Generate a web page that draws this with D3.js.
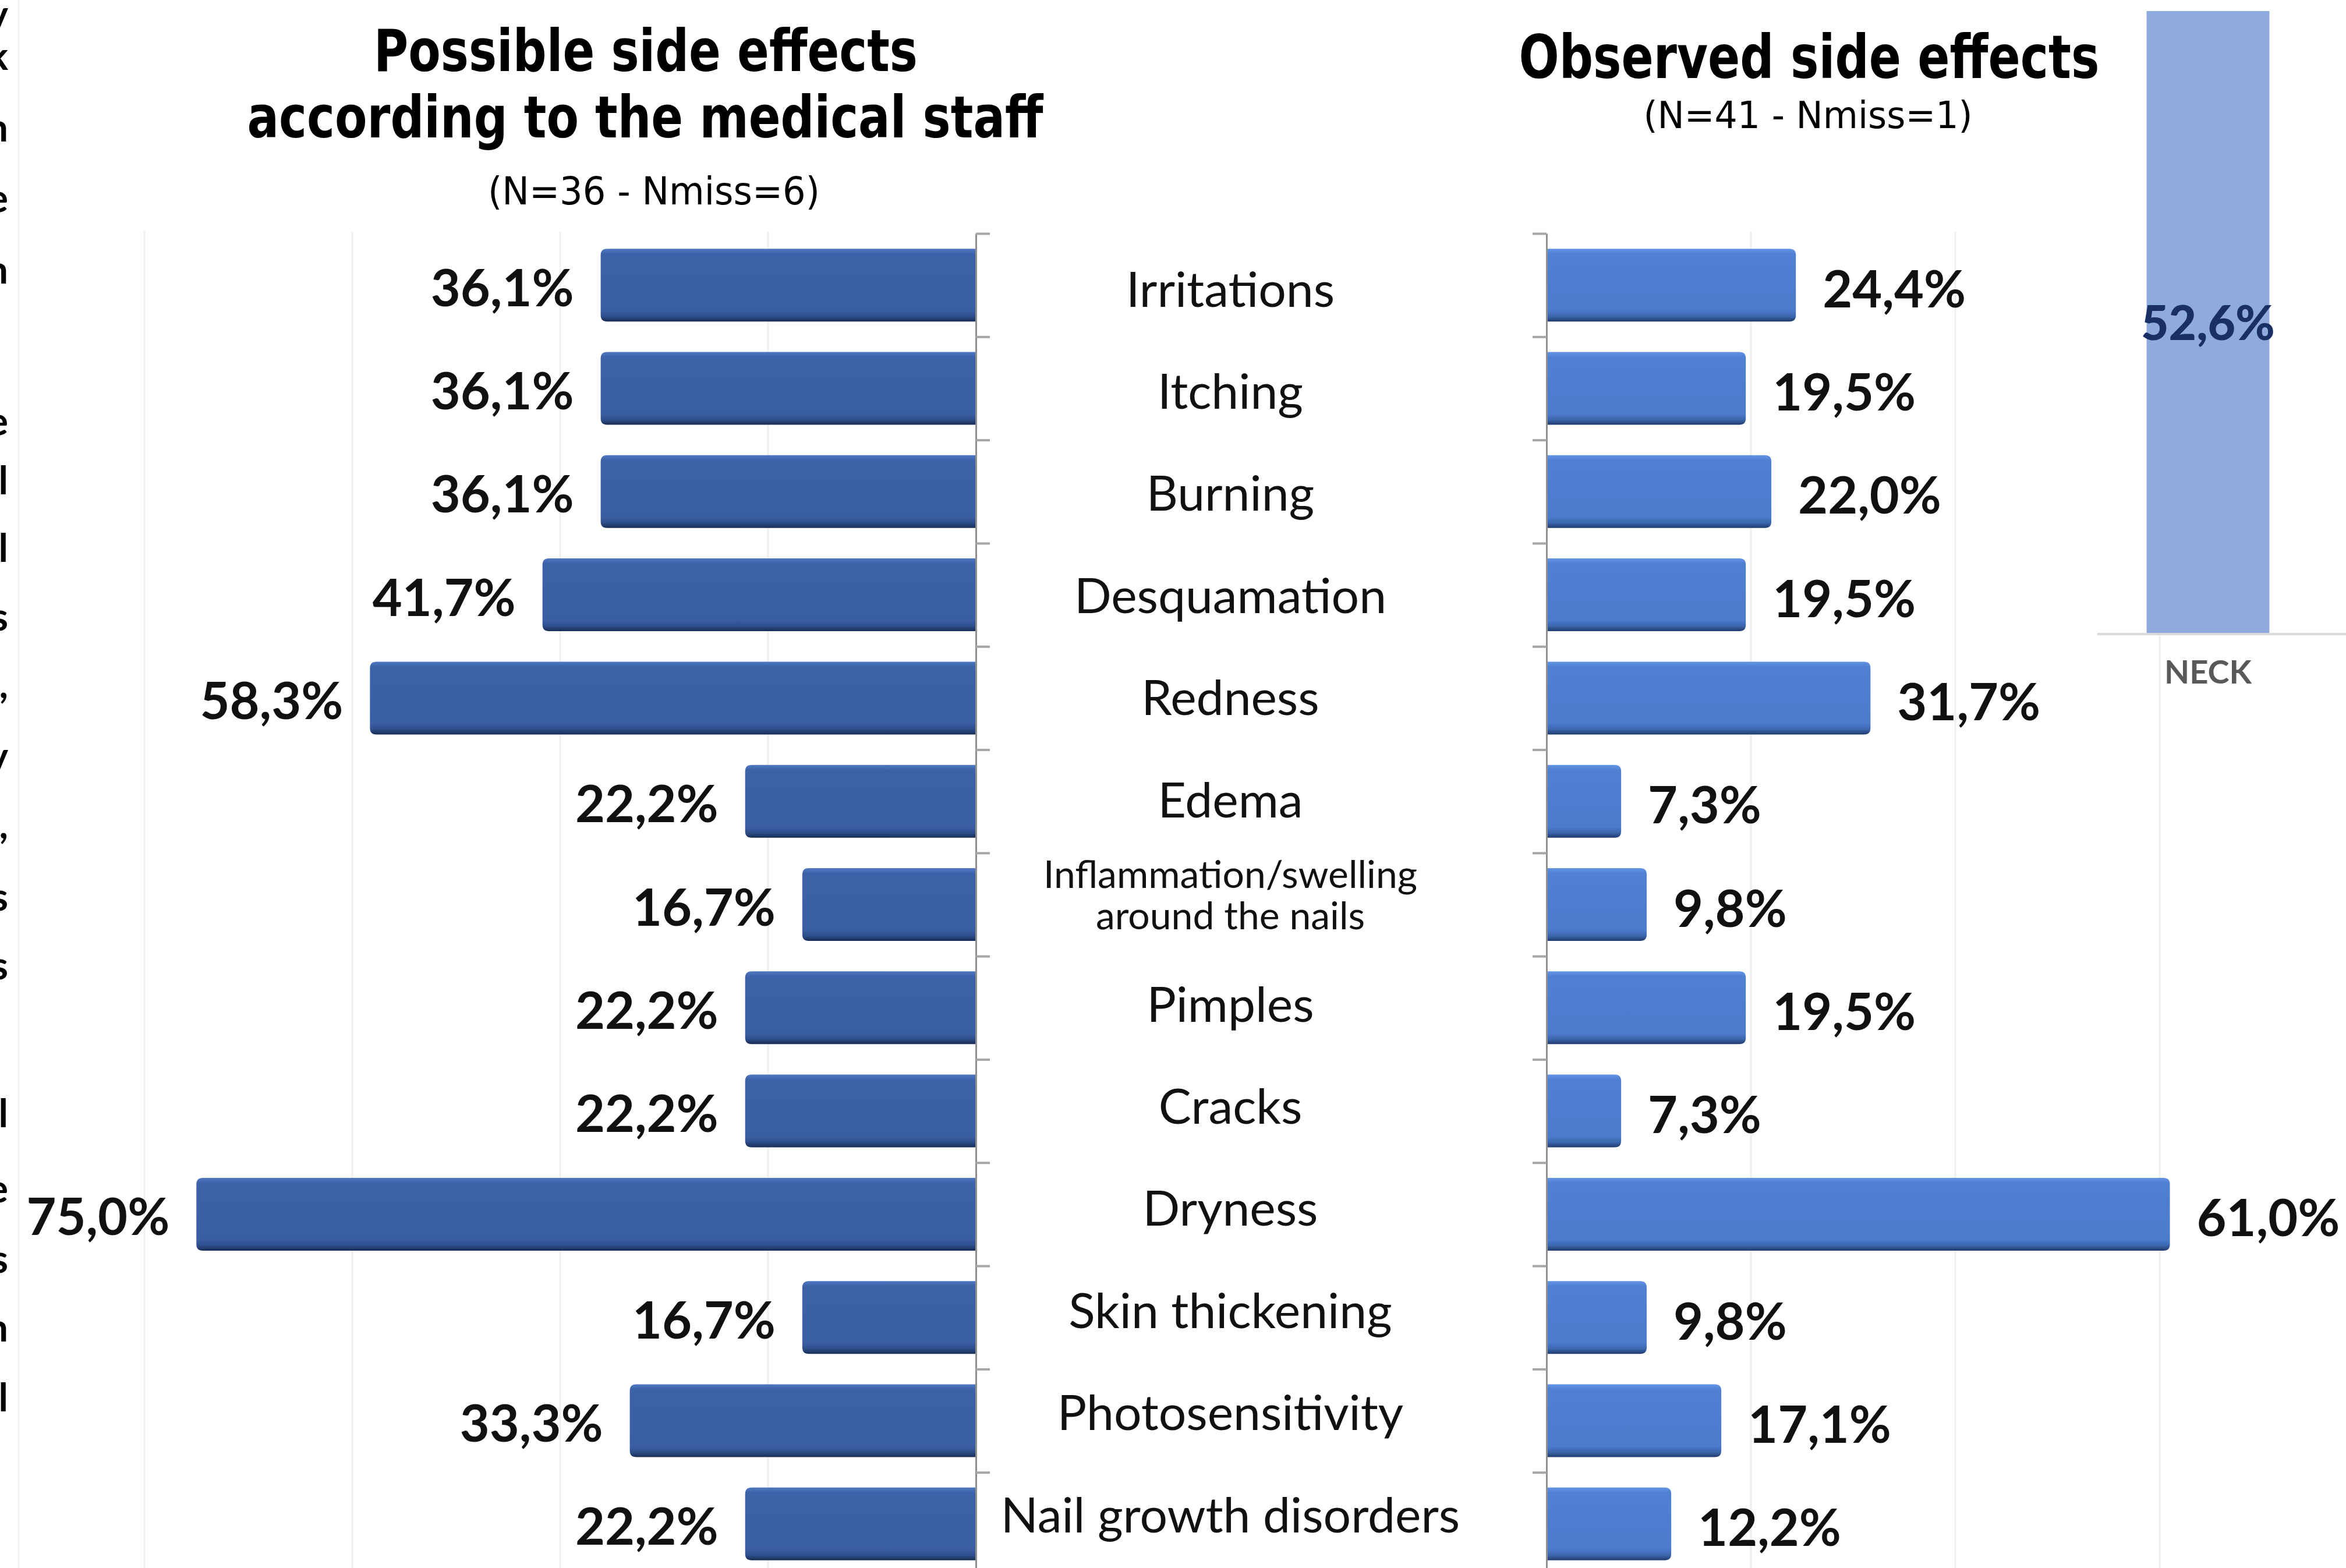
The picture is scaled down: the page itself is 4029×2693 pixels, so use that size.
<!DOCTYPE html>
<html>
<head>
<meta charset="utf-8">
<script src="https://cdnjs.cloudflare.com/ajax/libs/d3/7.8.5/d3.min.js"></script>
<style>
  body { margin: 0; background: #fff; }
  svg { display: block; }
</style>
</head>
<body>
<svg id="chart"></svg>
<script>
// data
let categories = ["Irritations", "Itching", "Burning", "Desquamation", "Redness", "Edema",
    "Inflammation/swelling\naround the nails", "Pimples", "Cracks", "Dryness",
    "Skin thickening", "Photosensitivity", "Nail growth disorders"]
let possibleValues = [36.1, 36.1, 36.1, 41.7, 58.3, 22.2, 16.7, 22.2, 22.2, 75.0, 16.7, 33.3, 22.2]
let observedValues = [24.4, 19.5, 22.0, 19.5, 31.7, 7.3, 9.8, 19.5, 7.3, 61.0, 9.8, 17.1, 12.2]
let leftGridTicks = [20, 40, 60, 80]
let rightGridTicks = [20, 40, 60]
let neckCategories = ["NECK"]
let neckValues = [52.6]
// slivers of a neighbouring text column cut off at the left edge
let edgeGlyphs = [["y", 10], ["k", 38], ["n", 86], ["e", 133], ["n", 181], ["e", 282], ["l", 322],
    ["l", 367], ["s", 413], [",", 458], ["y", 506], [",", 552], ["s", 600], ["s", 646],
    ["l", 745], ["e", 795], ["s", 842], ["n", 888], ["l", 935]]

let width = 4029, height = 2693
let chart = d3.select("#chart").attr("width", width).attr("height", height)
chart.append("rect").attr("width", width).attr("height", height).attr("fill", "#fff")

let fmt = v => d3.format(".1f")(v).replace(".", ",") + "%"

let leftAxisX = 1676, rightAxisX = 2656
let bandTop = 401, bandBottom = 2706
let gridTop = 398

let yscale = d3.scaleBand()
    .domain(categories)
    .range([bandTop, bandBottom])
    .paddingInner(0.295)
    .paddingOuter(0.1475)

let boundary = d3.scaleLinear().domain([0, categories.length]).range([bandTop, bandBottom])

let xLeft = d3.scaleLinear().domain([0, 100]).range([leftAxisX, leftAxisX - 1785])
let xRight = d3.scaleLinear().domain([0, 100]).range([rightAxisX, rightAxisX + 1755])

// gradients
let defs = chart.append("defs")
function makeGrad(id, stops) {
    let g = defs.append("linearGradient").attr("id", id)
        .attr("x1", 0).attr("y1", 0).attr("x2", 0).attr("y2", 1)
    stops.forEach(s => g.append("stop").attr("offset", s[0]).attr("stop-color", s[1]))
}
makeGrad("gradLeft", [[0, "#5079c2"], [0.07, "#3d62a8"], [0.85, "#3a5ea3"], [0.93, "#2e4e8a"], [1, "#172d55"]])
makeGrad("gradRight", [[0, "#6494e4"], [0.07, "#5080d2"], [0.85, "#4c7bcc"], [0.93, "#3c66ad"], [1, "#1f3b6c"]])

// faint frame line on the left
chart.append("line").attr("x1", 32).attr("x2", 32).attr("y1", 0).attr("y2", height)
    .attr("stroke", "#f3f3f3").attr("stroke-width", 3)

chart.append("g").selectAll("text").data(edgeGlyphs).enter().append("text")
    .attr("x", 14)
    .attr("y", d => d[1] * 2.5695 + 22)
    .attr("text-anchor", "end")
    .style("font-family", "Lato, sans-serif")
    .style("font-size", "66px")
    .style("font-weight", 700)
    .attr("fill", "#000")
    .text(d => d[0])

// gridlines
chart.append("g").selectAll("line").data(leftGridTicks).enter().append("line")
    .attr("x1", d => xLeft(d)).attr("x2", d => xLeft(d))
    .attr("y1", gridTop).attr("y2", height)
    .attr("stroke", "#efefef").attr("stroke-width", 3)
chart.append("g").selectAll("line").data(rightGridTicks).enter().append("line")
    .attr("x1", d => xRight(d)).attr("x2", d => xRight(d))
    .attr("y1", gridTop).attr("y2", height)
    .attr("stroke", "#efefef").attr("stroke-width", 3)

// bars with a rounded outer end
let r = 11
function leftBar(v, i) {
    let y = yscale(categories[i]), h = yscale.bandwidth()
    let x0 = xLeft(v), x1 = leftAxisX
    return "M" + x1 + "," + y + "H" + (x0 + r) + "Q" + x0 + "," + y + " " + x0 + "," + (y + r) +
        "V" + (y + h - r) + "Q" + x0 + "," + (y + h) + " " + (x0 + r) + "," + (y + h) + "H" + x1 + "Z"
}
function rightBar(v, i) {
    let y = yscale(categories[i]), h = yscale.bandwidth()
    let x0 = rightAxisX, x1 = xRight(v)
    return "M" + x0 + "," + y + "H" + (x1 - r) + "Q" + x1 + "," + y + " " + x1 + "," + (y + r) +
        "V" + (y + h - r) + "Q" + x1 + "," + (y + h) + " " + (x1 - r) + "," + (y + h) + "H" + x0 + "Z"
}

chart.append("g").selectAll("path").data(possibleValues).enter().append("path")
    .attr("d", leftBar)
    .attr("fill", "url(#gradLeft)")
chart.append("g").selectAll("path").data(observedValues).enter().append("path")
    .attr("d", rightBar)
    .attr("fill", "url(#gradRight)")

// category axes (ticks at the band boundaries)
let axisL = chart.append("g")
    .attr("transform", "translate(" + leftAxisX + ",0)")
    .call(d3.axisRight(boundary).tickValues(d3.range(categories.length + 1)).tickSize(24).tickSizeOuter(0).tickFormat(""))
let axisR = chart.append("g")
    .attr("transform", "translate(" + rightAxisX + ",0)")
    .call(d3.axisLeft(boundary).tickValues(d3.range(categories.length + 1)).tickSize(24).tickSizeOuter(0).tickFormat(""))
;[axisL, axisR].forEach(a => {
    a.select(".domain").attr("stroke", "#8f8f8f").attr("stroke-width", 3)
    a.selectAll(".tick line").attr("stroke", "#a6a6a6").attr("stroke-width", 4)
})

// value labels
chart.append("g").selectAll("text").data(possibleValues).enter().append("text")
    .attr("x", d => xLeft(d) - 46)
    .attr("y", (d, i) => yscale(categories[i]) + yscale.bandwidth() / 2 + 36)
    .attr("text-anchor", "end")
    .style("font-family", "Lato, sans-serif")
    .style("font-weight", 700)
    .style("font-size", "88px")
    .attr("fill", "#111")
    .text(fmt)
chart.append("g").selectAll("text").data(observedValues).enter().append("text")
    .attr("x", d => xRight(d) + 46)
    .attr("y", (d, i) => yscale(categories[i]) + yscale.bandwidth() / 2 + 38)
    .attr("text-anchor", "start")
    .style("font-family", "Lato, sans-serif")
    .style("font-weight", 700)
    .style("font-size", "88px")
    .attr("fill", "#111")
    .text(fmt)

// category labels (their text box is a bit tighter than the bar bands)
let catX = 2113
let catLabels = chart.append("g").selectAll("text").data(categories).enter().append("text")
    .attr("text-anchor", "middle")
    .style("font-family", "Lato, sans-serif")
    .attr("fill", "#111")
catLabels.each(function (d, i) {
    let t = d3.select(this)
    let c = yscale(d) + yscale.bandwidth() / 2 - i * 1.9
    let lines = d.split("\n")
    if (lines.length == 1) {
        t.attr("x", catX).attr("y", c + 37).style("font-size", "84px").text(d)
    } else {
        t.style("font-size", "66px")
        lines.forEach((l, k) => {
            t.append("tspan").attr("x", catX).attr("y", c - 17 + k * 71).text(l)
        })
    }
})

// titles
function title(txt, x, y, size, len, weight, family) {
    chart.append("text")
        .attr("x", x).attr("y", y)
        .attr("text-anchor", "middle")
        .attr("textLength", len)
        .attr("lengthAdjust", "spacingAndGlyphs")
        .style("font-family", family)
        .style("font-weight", weight)
        .style("font-size", size + "px")
        .attr("fill", "#000")
        .text(txt)
}
title("Possible side effects", 1109, 122, 100, 934, 700, "'DejaVu Sans', sans-serif")
title("according to the medical staff", 1108, 236, 100, 1367, 700, "'DejaVu Sans', sans-serif")
title("(N=36 - Nmiss=6)", 1123, 351, 66, 570, 400, "'DejaVu Sans', sans-serif")
title("Observed side effects", 3107, 134, 104, 997, 700, "'DejaVu Sans', sans-serif")
title("(N=41 - Nmiss=1)", 3105, 220, 64, 565, 400, "'DejaVu Sans', sans-serif")

// neck column chart
let neckBase = 1089, neckTop = 19
let neckX = d3.scaleBand().domain(neckCategories).range([3602, 3982]).paddingInner(0.445).paddingOuter(0.2225)
let neckY = d3.scaleLinear().domain([0, d3.max(neckValues)]).range([neckBase, neckTop])

chart.append("g").selectAll("rect").data(neckValues).enter().append("rect")
    .attr("x", (d, i) => neckX(neckCategories[i]))
    .attr("width", neckX.bandwidth())
    .attr("y", d => neckY(d))
    .attr("height", d => neckBase - neckY(d))
    .attr("fill", "#8faadc")

chart.append("line").attr("x1", 3602).attr("x2", width).attr("y1", neckBase).attr("y2", neckBase)
    .attr("stroke", "#d9d9d9").attr("stroke-width", 4)

chart.append("g").selectAll("text").data(neckValues).enter().append("text")
    .attr("x", (d, i) => neckX(neckCategories[i]) + neckX.bandwidth() / 2)
    .attr("y", d => neckY(d / 2) + 30)
    .attr("text-anchor", "middle")
    .style("font-family", "Lato, sans-serif")
    .style("font-weight", 900)
    .style("font-size", "82px")
    .attr("fill", "#1a2f66")
    .text(fmt)

chart.append("g").selectAll("text").data(neckCategories).enter().append("text")
    .attr("x", d => neckX(d) + neckX.bandwidth() / 2)
    .attr("y", 1174)
    .attr("text-anchor", "middle")
    .style("font-family", "Lato, sans-serif")
    .style("font-weight", 700)
    .style("font-size", "56px")
    .attr("fill", "#595959")
    .text(d => d)
</script>
</body>
</html>
